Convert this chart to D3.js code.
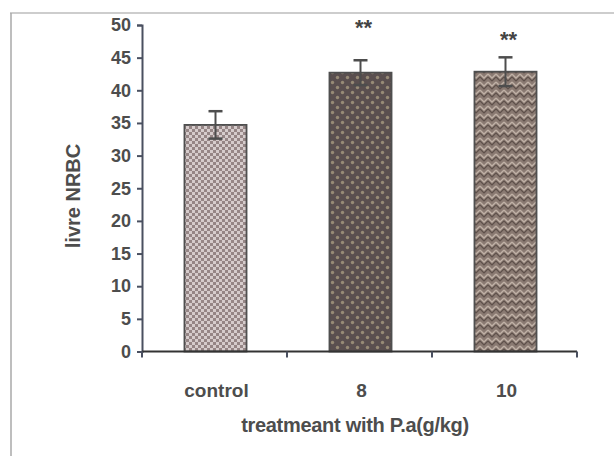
<!DOCTYPE html>
<html><head><meta charset="utf-8">
<script src="https://cdn.jsdelivr.net/npm/d3@7"></script>
<style>body{margin:0;background:#fff}svg{display:block}</style>
</head><body><svg id="c" width="614" height="456"></svg>
<script>
const categories = ["control", "8", "10"];
const values = [34.7, 42.7, 42.85];
const errors = [2.1, 1.9, 2.2];
const sigLabels = ["", "**", "**"];
const sigLevels = [null, 48.4, 46.7];
const yTicks = [0, 5, 10, 15, 20, 25, 30, 35, 40, 45, 50];
const yLabel = "livre NRBC";
const xLabel = "treatmeant with P.a(g/kg)";

const svg = d3.select("#c");
const font = "'Liberation Sans', Arial, sans-serif";
const defs = svg.append("defs");

// patterns
const p1 = defs.append("pattern").attr("id","p1").attr("width",6).attr("height",6).attr("patternUnits","userSpaceOnUse");
p1.append("rect").attr("width",6).attr("height",6).attr("fill","#968686");
p1.append("rect").attr("x",0).attr("y",0).attr("width",3).attr("height",3).attr("fill","#d6cccc");
p1.append("rect").attr("x",3).attr("y",3).attr("width",3).attr("height",3).attr("fill","#d6cccc");

const p2 = defs.append("pattern").attr("id","p2").attr("width",10).attr("height",10).attr("patternUnits","userSpaceOnUse");
p2.append("rect").attr("width",10).attr("height",10).attr("fill","#5a4f4f");
p2.append("circle").attr("cx",2.5).attr("cy",2.5).attr("r",1.7).attr("fill","#978b76");
p2.append("circle").attr("cx",7.5).attr("cy",7.5).attr("r",1.7).attr("fill","#978b76");

const p3 = defs.append("pattern").attr("id","p3").attr("width",8).attr("height",8).attr("patternUnits","userSpaceOnUse");
p3.append("rect").attr("width",8).attr("height",8).attr("fill","#8a7a72");
p3.append("path").attr("d","M0,2 L4,6 L8,2").attr("fill","none").attr("stroke","#c0b1a6").attr("stroke-width",1.3);
p3.append("path").attr("d","M0,5 L4,9 L8,5 M0,-3 L4,1 L8,-3").attr("fill","none").attr("stroke","#5e504a").attr("stroke-width",1.2);
const fills = ["url(#p1)","url(#p2)","url(#p3)"];

// frame
svg.append("line").attr("x1",10).attr("x2",614).attr("y1",13).attr("y2",13).attr("stroke","#bdbdbd").attr("stroke-width",1.5);
svg.append("line").attr("x1",11).attr("x2",11).attr("y1",13).attr("y2",456).attr("stroke","#a8a8a8").attr("stroke-width",1.5);

const y = d3.scaleLinear().domain([0,50]).range([351.5,25]);
const x = d3.scaleBand().domain(categories).range([143,578]).paddingInner(0.572).paddingOuter(0.286);

// y axis
const ya = svg.append("g").attr("transform","translate(142,0)")
  .call(d3.axisLeft(y).tickValues(yTicks).tickSize(5).tickPadding(6));
ya.select(".domain").attr("stroke","#4a5060").attr("stroke-width",2);
ya.selectAll(".tick line").attr("stroke","#4a5060").attr("stroke-width",2);
ya.selectAll("text").attr("font-family",font).attr("font-size",18).attr("font-weight","bold").attr("fill","#4d4d4d");

// bars
const bars = svg.append("g");
categories.forEach((c,i)=>{
  bars.append("rect").attr("x",x(c)).attr("y",y(values[i])).attr("width",x.bandwidth())
    .attr("height",y(0)-y(values[i])).attr("fill",fills[i]).attr("stroke","#4f4f4f").attr("stroke-width",1.8);
  const cx = x(c)+x.bandwidth()/2;
  const top = y(values[i]+errors[i]), bot = y(values[i]-errors[i]);
  bars.append("line").attr("x1",cx).attr("x2",cx).attr("y1",top).attr("y2",bot).attr("stroke","#4d4d4d").attr("stroke-width",2);
  [top,bot].forEach(v=>bars.append("line").attr("x1",cx-7).attr("x2",cx+7).attr("y1",v).attr("y2",v).attr("stroke","#4d4d4d").attr("stroke-width",2.5));
  if (sigLabels[i]) {
    svg.append("text").attr("x",cx+3).attr("y",y(sigLevels[i])).attr("text-anchor","middle")
      .attr("font-family",font).attr("font-size",22).attr("font-weight","bold").attr("fill","#444").text(sigLabels[i]);
  }
});

// x axis
const xa = svg.append("g").attr("transform","translate(0,351.5)");
xa.append("line").attr("x1",142).attr("x2",577).attr("stroke","#333").attr("stroke-width",2);
const step = x.step();
d3.range(categories.length+1).forEach(k=>{
  const xx = 142 + k*step;
  xa.append("line").attr("x1",xx).attr("x2",xx).attr("y1",0).attr("y2",6).attr("stroke","#4a5060").attr("stroke-width",2);
});
categories.forEach(c=>{
  xa.append("text").attr("x",x(c)+x.bandwidth()/2+1).attr("y",45).attr("text-anchor","middle")
    .attr("font-family",font).attr("font-size",19).attr("font-weight","bold").attr("fill","#4d4d4d").text(c);
});

// axis titles
svg.append("text").attr("x",355).attr("y",432).attr("text-anchor","middle")
  .attr("font-family",font).attr("font-size",20).attr("font-weight","bold").attr("fill","#4d4d4d").attr("letter-spacing",-0.3).text(xLabel);
svg.append("text").attr("transform","translate(80,196) rotate(-90)").attr("text-anchor","middle")
  .attr("font-family",font).attr("font-size",20).attr("font-weight","bold").attr("fill","#4d4d4d").text(yLabel);
</script></body></html>
